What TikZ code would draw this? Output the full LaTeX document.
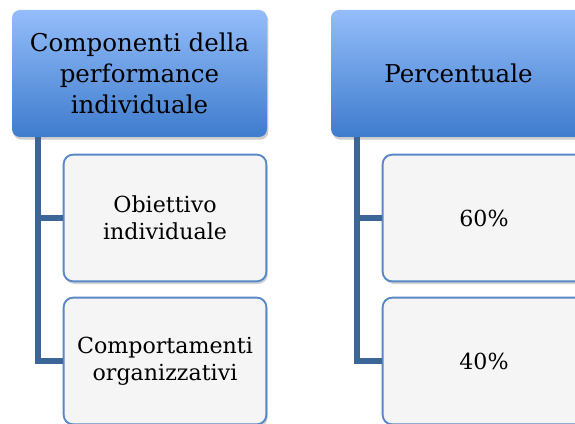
\documentclass[tikz,border=0pt]{standalone}
\usepackage{fontspec}
\setmainfont{DejaVu Serif}
\usetikzlibrary{shadows}
\definecolor{headtop}{RGB}{148,189,250}
\definecolor{headbot}{RGB}{62,124,205}
\definecolor{itemfill}{RGB}{245,245,245}
\definecolor{itemedge}{RGB}{88,136,198}
\definecolor{branchcol}{RGB}{60,101,152}
\tikzset{
	head/.style={rounded corners=6pt, top color=headtop, bottom color=headbot,
		minimum width=191.25pt, minimum height=95.25pt, align=center,
		font=\fontsize{18.4}{23}\selectfont,
		drop shadow={shadow xshift=1pt, shadow yshift=-2pt, opacity=0.4}},
	item/.style={rounded corners=7pt, draw=itemedge, line width=1.4pt, fill=itemfill,
		minimum width=152pt, minimum height=95pt, align=center,
		font=\fontsize{16.6}{20.5}\selectfont,
		drop shadow={shadow xshift=1pt, shadow yshift=-2pt, opacity=0.35}},
	branch/.style={draw=branchcol, line width=3.9pt}
}
\begin{document}
\begin{tikzpicture}[x=0.75pt, y=-0.75pt]
	\useasboundingbox (0,0) rectangle (575,424);
	\clip (0,0) rectangle (575,424);
	\node (H1) at (139.5, 73.5)	[head]	{Componenti della\\performance\\individuale};
	\node (H2) at (458.5, 73.5)	[head]	{Percentuale};
	\node (A1) at (165, 218)	[item]	{Obiettivo\\individuale};
	\node (A2) at (165, 361)	[item]	{Comportamenti\\organizzativi};
	\node (B1) at (484, 218)	[item]	{60\%};
	\node (B2) at (484, 361)	[item]	{40\%};
	\coordinate (T1) at (38, 137);
	\coordinate (T2) at (357, 137);
	\draw[branch] (T1) |- (A1.west);
	\draw[branch] (T1) |- (A2.west);
	\draw[branch] (T2) |- (B1.west);
	\draw[branch] (T2) |- (B2.west);
\end{tikzpicture}
\end{document}
